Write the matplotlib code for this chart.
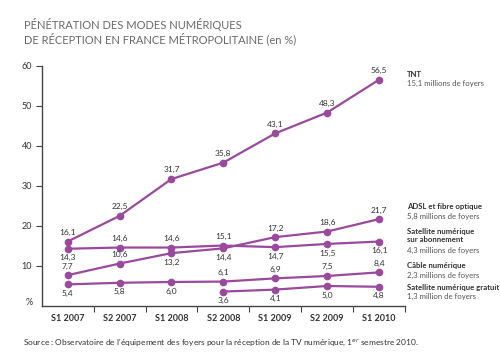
import matplotlib
matplotlib.use("Agg")
import matplotlib.pyplot as plt
import numpy as np

categories = ["S1 2007", "S2 2007", "S1 2008", "S2 2008", "S1 2009", "S2 2009", "S1 2010"]
tnt = [16.1, 22.5, 31.7, 35.8, 43.1, 48.3, 56.5]
adsl = [7.7, 10.6, 13.2, 14.4, 17.2, 18.6, 21.7]
sat_abo = [14.3, 14.6, 14.6, 15.1, 14.7, 15.5, 16.1]
cable = [5.4, 5.8, 6.0, 6.1, 6.9, 7.5, 8.4]
sat_gratuit = [None, None, None, 3.6, 4.1, 5.0, 4.8]
yticks = [10, 20, 30, 40, 50, 60]

# label placement: +1 above, -1 below
tnt_pos = [1, 1, 1, 1, 1, 1, 1]
adsl_pos = [1, 1, -1, -1, 1, 1, 1]
sat_abo_pos = [-1, 1, 1, 1, -1, -1, -1]
cable_pos = [-1, -1, -1, 1, 1, 1, 1]
sat_gratuit_pos = [0, 0, 0, -1, -1, -1, -1]

series_text = [
    ("TNT", "15,1 millions de foyers", 58.0 + 0.7),
    ("ADSL et fibre optique", "5,8 millions de foyers", 25.6),
    ("Satellite numérique\nsur abonnement", "4,3 millions de foyers", 19.4),
    ("Câble numérique", "2,3 millions de foyers", 10.9),
    ("Satellite numérique gratuit", "1,3 million de foyers", 5.5),
]

color = "#9a4a9c"
txt = "#333333"
font = ["Lato", "DejaVu Sans"]

fig = plt.figure(figsize=(5, 3.59), dpi=100)
ax = fig.add_axes([0.0834, 0.1476, 0.81 - 0.0834, 0.817 - 0.1476])

x = np.arange(len(categories))
for vals, pos in [(tnt, tnt_pos), (adsl, adsl_pos), (sat_abo, sat_abo_pos),
                  (cable, cable_pos), (sat_gratuit, sat_gratuit_pos)]:
    xs = [xi for xi, v in zip(x, vals) if v is not None]
    ys = [v for v in vals if v is not None]
    ax.plot(xs, ys, color=color, lw=1.6, marker="o", ms=4.5, mec=color, mfc=color)
    for xi, v, p in zip(x, vals, pos):
        if v is None:
            continue
        off = 4 if p > 0 else -4
        ax.annotate(f"{v:.1f}".replace(".", ","), (xi, v), xytext=(0, off),
                    textcoords="offset points", ha="center",
                    va="bottom" if p > 0 else "top", fontsize=6, color=txt,
                    family=font)

ax.set_xlim(-0.5, 6.5)
ax.set_ylim(0, 60)
ax.set_yticks(yticks)
ax.set_yticklabels([str(t) for t in yticks], fontsize=6.5, color=txt, family=font)
ax.set_xticks(x)
ax.set_xticklabels(categories, fontsize=6.5, fontweight="bold", color=txt, family=font)
ax.set_xticks(np.arange(0.5, 7, 1), minor=True)
ax.tick_params(axis="x", which="major", length=0, pad=6)
ax.tick_params(axis="x", which="minor", length=4, direction="out", color="#444444", width=0.8)
ax.tick_params(axis="y", length=4, color="#444444", width=0.8, pad=3)
for s in ["top", "right"]:
    ax.spines[s].set_visible(False)
for s in ["left", "bottom"]:
    ax.spines[s].set_color("#444444")
    ax.spines[s].set_linewidth(1.0)
ax.text(-0.025, 0.8, "%", transform=ax.get_yaxis_transform(), ha="right", va="center",
        fontsize=6.5, color=txt, family=font)

for bold, sub, yv in series_text:
    ax.text(6.5 + 0.04, yv, bold, fontsize=5.6, fontweight="bold", color=txt,
            va="top", ha="left", family=font, transform=ax.transData, clip_on=False,
            linespacing=1.1)
    nlines = bold.count("\n") + 1
    ax.annotate(sub, (6.54, yv), xytext=(0, -6.6 * nlines), textcoords="offset points",
                fontsize=5.6, color="#555555", va="top", ha="left", family=font,
                annotation_clip=False)

fig.text(0.048, 0.95, "PÉNÉTRATION DES MODES NUMÉRIQUES\nDE RÉCEPTION EN FRANCE MÉTROPOLITAINE (en %)",
         fontsize=8, color="#6a6a6a", ha="left", va="top", family=font,
         linespacing=1.15)
fig.text(0.046, 0.048, "Source : Observatoire de l'équipement des foyers pour la réception de la TV numérique, 1$^{er}$ semestre 2010.",
         fontsize=6.0, color=txt, ha="left", va="center", family=font)

fig.savefig("out.png", dpi=100)
